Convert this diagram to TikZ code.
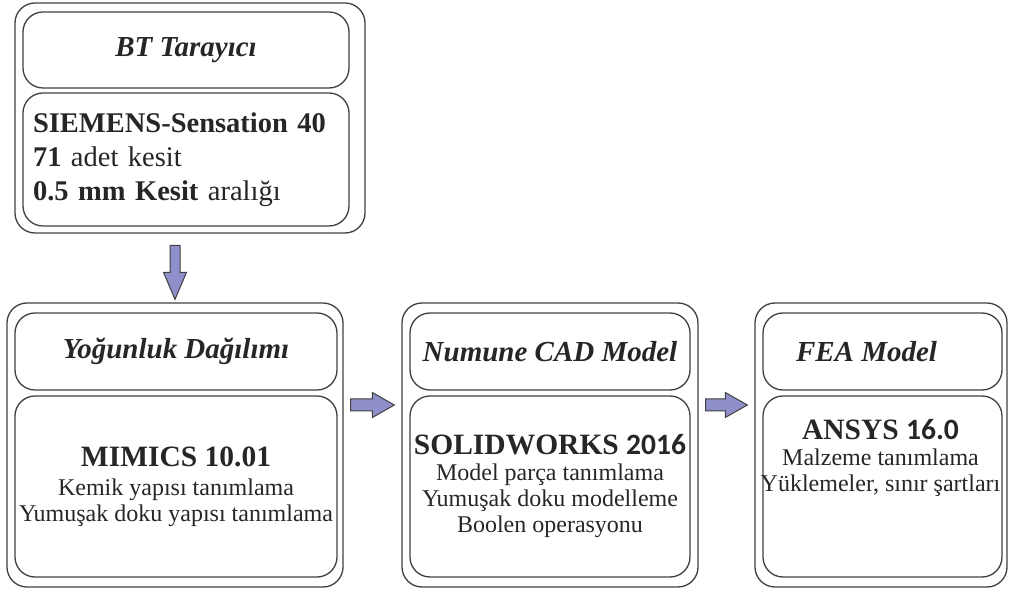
\documentclass[tikz,border=0pt]{standalone}
\usepackage{fontspec}
\setmainfont{Liberation Serif}
\newfontfamily\numfont{Carlito}
\usetikzlibrary{calc}
\newcommand{\titletext}[1]{{\fontsize{29.5}{30}\selectfont\bfseries #1}}

\begin{document}
\begin{tikzpicture}[x=1pt,y=1pt,
  frame/.style={draw=linecolor, line width=1.3pt, rounded corners=20pt, inner sep=0pt, text=black!85},
  head/.style={font=\fontsize{29}{32}\selectfont\bfseries\itshape, text=black!85},
  body/.style={font=\fontsize{24}{26}\selectfont, align=center, text=black!85},
  blockarrow/.style={draw=linecolor, fill=arrowcolor, line width=1pt, line join=miter}]
\definecolor{linecolor}{rgb}{0.25,0.25,0.25}
\definecolor{arrowcolor}{rgb}{0.56,0.56,0.80}
\useasboundingbox (0,0) rectangle (1010,592);
% BT Tarayici
\node[frame, minimum width=350, minimum height=230] (bt) at (190,474) {};
\node[frame, head, minimum width=326, minimum height=76] (bthead) at (186,542) {BT Tarayıcı};
\node[frame, minimum width=326, minimum height=133, font=\fontsize{28.5}{34}\selectfont, text width=306, align=left] (btbody) at (186,432.5) {\textbf{SIEMENS-Sensation 40}\\\textbf{71} adet kesit\\\textbf{0.5 mm Kesit} aralığı};
% Yogunluk Dagilimi
\node[frame, minimum width=336, minimum height=284] (yog) at (175,147) {};
\node[frame, head, minimum width=322, minimum height=77] (yoghead) at (176,240.5) {Yoğunluk Dağılımı};
\node[frame, body, minimum width=322, minimum height=181] (yogbody) at (176,105.5) {\titletext{MIMICS 10.01}\\[3pt]Kemik yapısı tanımlama\\Yumuşak doku yapısı tanımlama};
% Numune CAD Model
\node[frame, minimum width=296, minimum height=284] (cad) at (550,147) {};
\node[frame, head, minimum width=280, minimum height=77] (cadhead) at (550,240.5) {Numune CAD Model};
\node[frame, body, minimum width=280, minimum height=181] (cadbody) at (550,105.5) {\titletext{SOLIDWORKS {\numfont 2016}}\\Model parça tanımlama\\Yumuşak doku modelleme\\Boolen operasyonu};
% FEA Model
\node[frame, minimum width=252, minimum height=284] (fea) at (881,147) {};
\node[frame, minimum width=239, minimum height=77] (feahead) at (882.5,240.5) {};
\node[frame, minimum width=239, minimum height=181] (feabody) at (882.5,105.5) {};
\node[head] (featitle) at ($(feahead.center)+(-16,0)$) {FEA Model};
\node[body, anchor=north] (featext) at ($(feabody.north)+(-2,-20)$) {\titletext{ANSYS {\numfont 16.0}}\\Malzeme tanımlama\\Yüklemeler, sınır şartları};
% arrows
\draw[blockarrow] ($(yog.north)+(-5,57)$) -- ($(yog.north)+(-5,30)$) -- ++(-6.5,0) -- ($(yog.north)+(0,3)$) -- ($(yog.north)+(11.5,30)$) -- ++(-6.5,0) -- ($(yog.north)+(5,57)$) -- cycle;
\foreach \a/\b in {yog/cad, cad/fea}
  \draw[blockarrow] ($(\a.east)+(7,46)$) -- ($(\b.west)+(-29,46)$) -- ++(0,6.5) -- ($(\b.west)+(-7,40)$) -- ($(\b.west)+(-29,27.5)$) -- ++(0,6.5) -- ($(\a.east)+(7,34)$) -- cycle;
\end{tikzpicture}
\end{document}
